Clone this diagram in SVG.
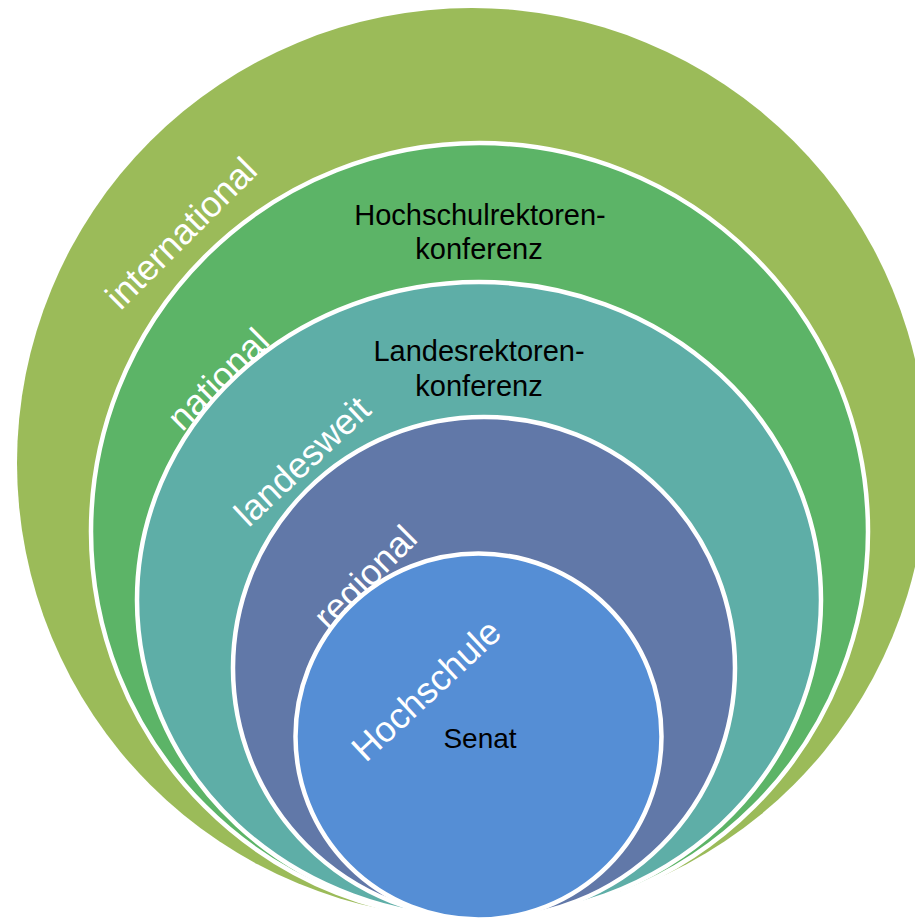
<svg xmlns="http://www.w3.org/2000/svg" width="915" height="919" viewBox="0 0 915 919">
  <style>
    .ring { stroke: #FFFFFF; stroke-width: 4.5; }
    .lbl { font-family: "Liberation Sans", Arial, sans-serif; font-size: 36px; fill: #FFFFFF; text-anchor: middle; }
    .txt { font-family: "Liberation Sans", Arial, sans-serif; font-size: 29px; fill: #000000; text-anchor: middle; }
  </style>
  <rect width="915" height="919" fill="#FFFFFF"/>
  <g id="international">
    <circle cx="472" cy="463" r="455" fill="#9BBB59"/>
    <text class="lbl" x="181" y="233" dy="0.35em" transform="rotate(-45 181 233)">international</text>
  </g>
  <g id="national">
    <circle class="ring" cx="479.5" cy="531.5" r="388.5" fill="#5CB467"/>
    <text class="lbl" x="218" y="379" dy="0.35em" transform="rotate(-45 218 379)">national</text>
    <text class="txt" x="480" y="225">Hochschulrektoren-</text>
    <text class="txt" x="479" y="259">konferenz</text>
  </g>
  <g id="landesweit">
    <ellipse class="ring" cx="479" cy="600" rx="342" ry="318" fill="#5EAEA7"/>
    <text class="lbl" x="302" y="461" dy="0.35em" transform="rotate(-43 302 461)">landesweit</text>
    <text class="txt" x="479" y="361">Landesrektoren-</text>
    <text class="txt" x="479" y="396">konferenz</text>
  </g>
  <g id="regional">
    <circle class="ring" cx="484" cy="668" r="251" fill="#6178A8"/>
    <text class="lbl" x="365" y="577" dy="0.35em" transform="rotate(-45 365 577)">regional</text>
  </g>
  <g id="hochschule">
    <circle class="ring" cx="478.5" cy="736.5" r="183" fill="#558ED5"/>
    <text class="lbl" x="426" y="690" dy="0.35em" transform="rotate(-43 426 690)">Hochschule</text>
    <text class="txt" x="480" y="748" style="font-size:28px">Senat</text>
  </g>
  <g id="connectors"/>
</svg>
